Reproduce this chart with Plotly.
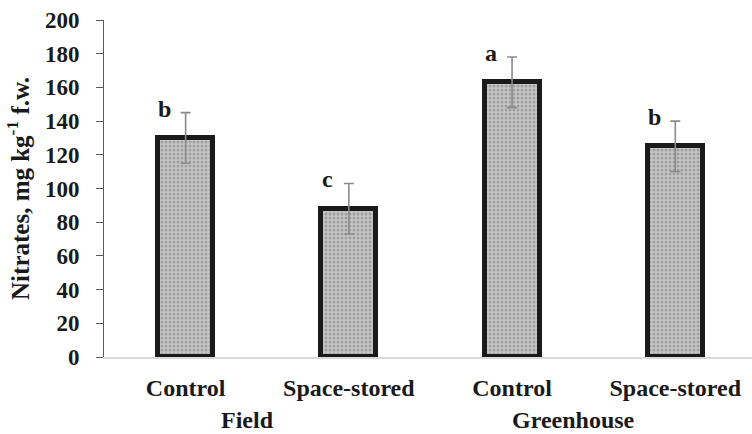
import plotly.graph_objects as go

# Nitrate content by growing site and seed treatment
treatments = ["Control", "Space-stored", "Control", "Space-stored"]
sites = ["Field", "Greenhouse"]
nitrates = [130, 88, 163, 125]
errors = [15, 15, 15, 15]
letters = ["b", "c", "a", "b"]

serif = "Liberation Serif, Times New Roman, serif"
ink = "#1a1a1a"
xs = list(range(len(treatments)))


def bold(size):
    return dict(family=serif, size=size, color=ink, weight="bold")


fig = go.Figure()
fig.add_trace(go.Bar(
    x=xs,
    y=nitrates,
    width=0.337,
    marker=dict(
        color="#b4b4b4",
        line=dict(color=ink, width=5),
        pattern=dict(shape=".", fgcolor="#777777", bgcolor="#c6c6c6",
                     size=4, solidity=0.45, fillmode="overlay"),
    ),
    error_y=dict(type="data", array=errors, visible=True,
                 color="#8a8a8a", thickness=1.6, width=5),
    showlegend=False,
))

# significance letters just left of each error bar cap
for i, (v, e, t) in enumerate(zip(nitrates, errors, letters)):
    fig.add_annotation(x=i, y=v + e, text=t, showarrow=False,
                       xshift=-21, yshift=4, yanchor="middle",
                       font=bold(24))

# growing-site labels under each pair of bars
for j, s in enumerate(sites):
    fig.add_annotation(x=2 * j + 0.5, y=0, yref="y", text=s,
                       showarrow=False, xshift=-20, yshift=-63,
                       yanchor="middle", font=bold(24))

fig.update_layout(
    width=752, height=434,
    margin=dict(l=104, r=0, t=20, b=77),
    paper_bgcolor="white", plot_bgcolor="white",
    bargap=0,
    font=dict(family=serif, color=ink),
)
fig.update_xaxes(
    range=[-0.5, 3.47],
    tickmode="array", tickvals=xs, ticktext=treatments,
    tickfont=bold(24),
    showline=True, linecolor="#d9d9d9", linewidth=2,
    ticks="", showgrid=False, zeroline=False,
    ticklabelstandoff=8,
)
fig.update_yaxes(
    range=[0, 200], tickmode="linear", tick0=0, dtick=20,
    tickfont=bold(23),
    tickformat="d",
    showline=True, linecolor="#595959", linewidth=1,
    ticks="outside", ticklen=7, tickcolor="#595959", tickwidth=1,
    showgrid=False, zeroline=False,
    ticklabelstandoff=12,
    title=dict(text="Nitrates, mg kg<sup>-1</sup> f.w.",
               font=bold(25), standoff=8),
)

fig.write_html("out.html")
